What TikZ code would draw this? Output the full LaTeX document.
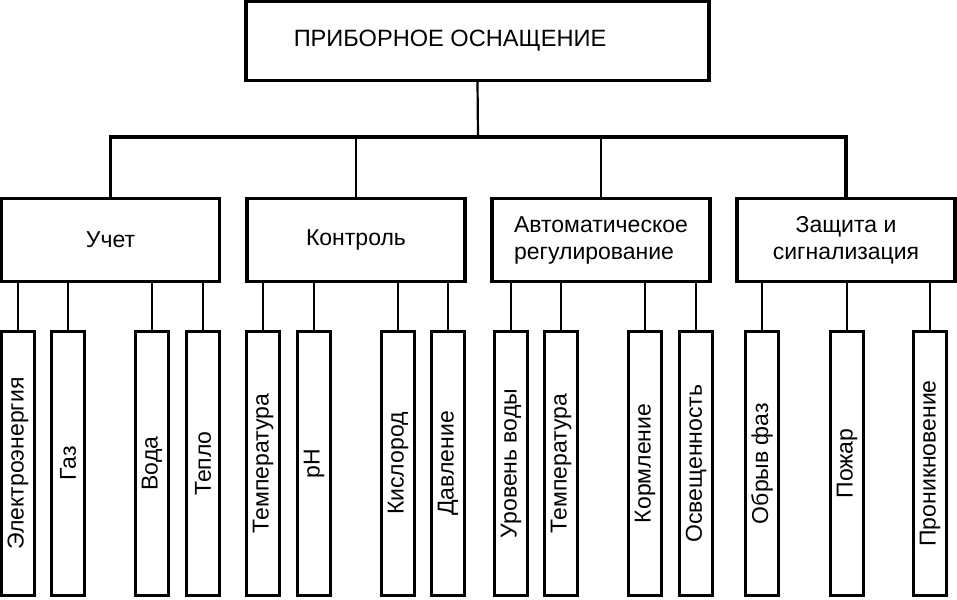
\documentclass[tikz,border=0pt]{standalone}
\usepackage{fontspec}
\setmainfont{Liberation Sans}
\usepackage{graphicx}
\begin{document}
\begin{tikzpicture}[x=0.5pt,y=-0.5pt,font=\fontsize{11.5}{13.5}\selectfont,
    box/.style={draw,line width=1.7pt,minimum width=109pt,minimum height=41.5pt,inner sep=0pt},
    leaf/.style={draw,line width=1.7pt,minimum width=16.5pt,minimum height=132pt,inner sep=0pt},
    wire/.style={line width=1.4pt}]
    \useasboundingbox (0,0) rectangle (957,599);
    % top
    \node[box,minimum width=231.5pt,minimum height=39.5pt,font=\fontsize{11.8}{13}\selectfont] (osn) at (477.5,41) {ПРИБОРНОЕ ОСНАЩЕНИЕ\hspace*{27.5pt}};
    \coordinate (bus) at (478,137);
    % second level
    \node[box] (uchet) at (110.5,240) {Учет};
    \node[box] (kontrol) at (356,240) {Контроль};
    \node[box,align=left] (avtomat) at (601,240) {Автоматическое\\регулирование};
    \node[box,align=center] (zashchita) at (846,240) {Защита и\\сигнализация};
    \draw[line width=1.1pt] (osn.south) -- (bus);
    \draw[line width=1.7pt] (uchet.north) |- (bus) -| (zashchita.north);
    \draw[wire] (kontrol.north) -- (kontrol.north |- bus);
    \draw[wire] (avtomat.north) -- (avtomat.north |- bus);
    % leaves
    \node[leaf] (elektro) at (18,463.5) {\rotatebox{90}{Электроэнергия}};
    \node[leaf] (gaz) at (68,463.5) {\rotatebox{90}{Газ}};
    \node[leaf] (voda) at (152,463.5) {\rotatebox{90}{Вода}};
    \node[leaf] (teplo) at (203,463.5) {\rotatebox{90}{Тепло}};
    \node[leaf] (temp) at (263,463.5) {\rotatebox{90}{Температура}};
    \node[leaf] (ph) at (314,463.5) {\rotatebox{90}{pH}};
    \node[leaf] (kislorod) at (398,463.5) {\rotatebox{90}{Кислород}};
    \node[leaf] (davl) at (448,463.5) {\rotatebox{90}{Давление}};
    \node[leaf] (uroven) at (511,463.5) {\rotatebox{90}{Уровень воды}};
    \node[leaf] (tempb) at (561,463.5) {\rotatebox{90}{Температура}};
    \node[leaf] (korml) at (645,463.5) {\rotatebox{90}{Кормление}};
    \node[leaf] (osvesh) at (696,463.5) {\rotatebox{90}{Освещенность}};
    \node[leaf] (obryv) at (762,463.5) {\rotatebox{90}{Обрыв фаз}};
    \node[leaf] (pozhar) at (847,463.5) {\rotatebox{90}{Пожар}};
    \node[leaf] (pronik) at (930,463.5) {\rotatebox{90}{Проникновение}};
    % links
    \draw[wire] (elektro.north) -- (elektro.north |- uchet.south);
    \draw[wire] (gaz.north) -- (gaz.north |- uchet.south);
    \draw[wire] (voda.north) -- (voda.north |- uchet.south);
    \draw[wire] (teplo.north) -- (teplo.north |- uchet.south);
    \draw[wire] (temp.north) -- (temp.north |- kontrol.south);
    \draw[wire] (ph.north) -- (ph.north |- kontrol.south);
    \draw[wire] (kislorod.north) -- (kislorod.north |- kontrol.south);
    \draw[wire] (davl.north) -- (davl.north |- kontrol.south);
    \draw[wire] (uroven.north) -- (uroven.north |- avtomat.south);
    \draw[wire] (tempb.north) -- (tempb.north |- avtomat.south);
    \draw[wire] (korml.north) -- (korml.north |- avtomat.south);
    \draw[wire] (osvesh.north) -- (osvesh.north |- avtomat.south);
    \draw[wire] (obryv.north) -- (obryv.north |- zashchita.south);
    \draw[wire] (pozhar.north) -- (pozhar.north |- zashchita.south);
    \draw[wire] (pronik.north) -- (pronik.north |- zashchita.south);
\end{tikzpicture}
\end{document}
